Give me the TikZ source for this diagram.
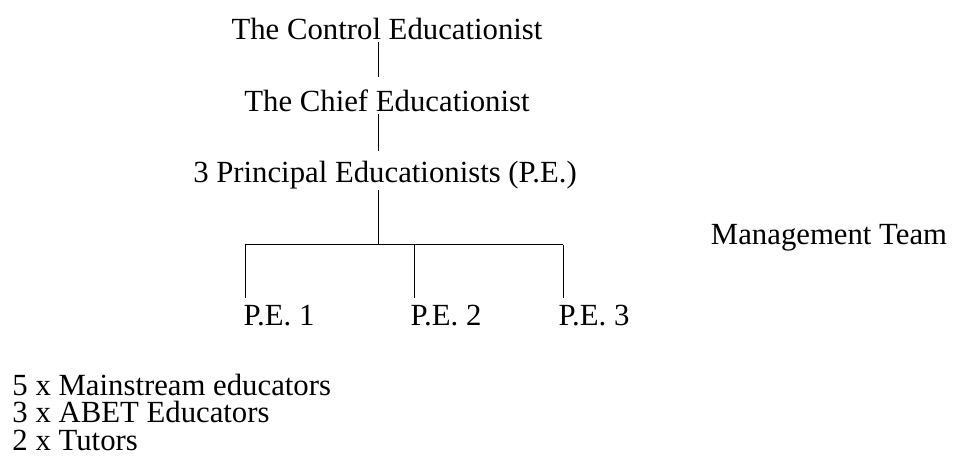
\documentclass[tikz,border=0pt]{standalone}
\usepackage{fontspec}
\setmainfont{Liberation Serif}
\tikzset{
  lbl/.style={font=\fontsize{12.3}{11}\selectfont, inner sep=0pt, anchor=base},
  link/.style={black, thin}
}
\begin{document}
\begin{tikzpicture}[x=0.4pt,y=-0.4pt]
  \pgfmathsetmacro\busx{378}   % x of the vertical spine
  \pgfmathsetmacro\busy{245}   % y of the horizontal bar
  \useasboundingbox (0,0) rectangle (957,470);

% chain of command
  \node[lbl] (ctrl)  at (387,40)  {The Control Educationist};
  \node[lbl] (chief) at (387,112) {The Chief Educationist};
  \node[lbl] (princ) at (385,183) {3 Principal Educationists (P.E.)};
  \coordinate (bus) at (\busx,\busy);

  \draw[link] ([yshift=-1pt]ctrl.base -| bus) -- ([yshift=5pt]chief.north -| bus);
  \draw[link] ([yshift=-1pt]chief.base -| bus) -- ([yshift=4pt]princ.north -| bus);
  \draw[link] (princ.south -| bus) -- (bus);

% the three P.E.s
  \node[lbl,anchor=base west] (pe1) at (243,326) {P.E. 1};
  \node[lbl,anchor=base west] (pe2) at (410,326) {P.E. 2};
  \node[lbl,anchor=base west] (pe3) at (558,326) {P.E. 3};
  \coordinate (j1) at (245,\busy);
  \coordinate (j2) at (414,\busy);
  \coordinate (j3) at (563,\busy);

  \draw[link] (j1) -- (j3);
  \draw[link] (j1) -- ([yshift=3pt]pe1.north -| j1);
  \draw[link] (j2) -- ([yshift=3pt]pe2.north -| j2);
  \draw[link] (j3) -- ([yshift=3pt]pe3.north -| j3);

  \node[lbl] (team) at (829,245) {Management Team};

% staff under each P.E.
  \node[lbl,anchor=base west] (st1) at (12,396) {5 x Mainstream educators};
  \node[lbl,anchor=base west] (st2) at (12,423) {3 x ABET Educators};
  \node[lbl,anchor=base west] (st3) at (12,451) {2 x Tutors};

\end{tikzpicture}
\end{document}
